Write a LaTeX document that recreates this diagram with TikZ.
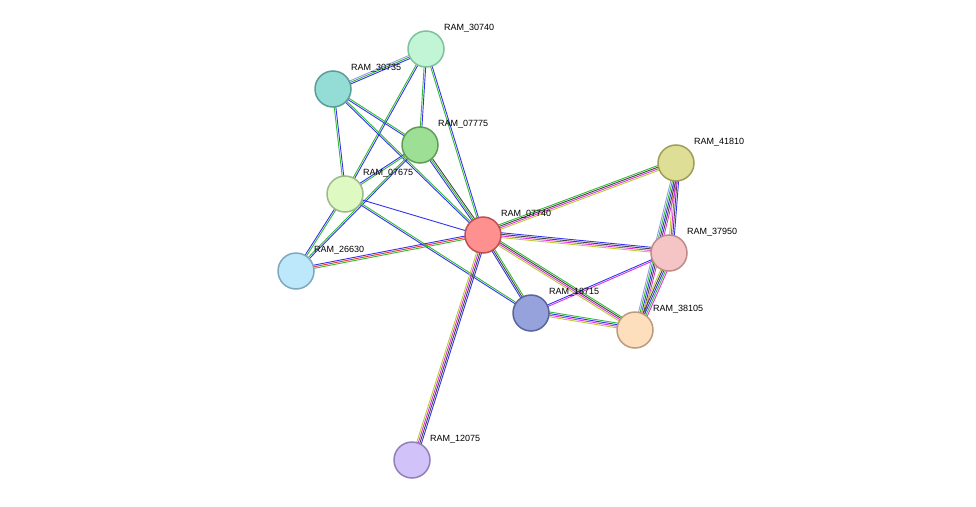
\documentclass[tikz,border=0pt]{standalone}
\usepackage{fontspec}
\setmainfont{Liberation Sans}
\usetikzlibrary{calc}
\definecolor{eblue}{HTML}{3333EE}
\definecolor{egreen}{HTML}{33BB33}
\definecolor{ered}{HTML}{EE3333}
\definecolor{eyel}{HTML}{BBCC33}
\definecolor{emag}{HTML}{DD33DD}
\definecolor{edark}{HTML}{444444}
\definecolor{elight}{HTML}{9999EE}
\tikzstyle{prot} = [draw, circle, line width=1.5pt, minimum size=36pt, inner sep=0pt]
\tikzstyle{plabel} = [anchor=west, inner sep=0pt, font=\fontsize{9}{10}\selectfont]
\newcommand{\link}[3]{%
  \foreach \c [count=\k] in {#3} {
    \draw [\c, line width=0.9pt]
      ($(#1)!{(\k-1.5)*1.6pt}!90:(#2)$) -- ($(#2)!{(\k-1.5)*1.6pt}!-90:(#1)$);
  }}
\newcommand{\protnode}[3]{%
  \definecolor{fill#1}{HTML}{#2}\definecolor{line#1}{HTML}{#3}%
  \node [prot, fill=fill#1, draw=line#1] (p#1) at (c#1) {};
  \node [plabel] (l#1) at ($(c#1)+(18,-21)$) {RAM\_#1};}
\begin{document}
\begin{tikzpicture}[x=1pt, y=-1pt]
  \useasboundingbox (0,0) rectangle (976,506);
  \coordinate (c30740) at (426,49);
  \coordinate (c30735) at (333,89);
  \coordinate (c07775) at (420,145);
  \coordinate (c07675) at (345,194);
  \coordinate (c26630) at (296,271);
  \coordinate (c07740) at (483,235);
  \coordinate (c41810) at (676,163);
  \coordinate (c37950) at (669,253);
  \coordinate (c18715) at (531,313);
  \coordinate (c38105) at (635,330);
  \coordinate (c12075) at (412,460);
  % edges
  \link{c30740}{c30735}{elight,egreen,eblue}
  \link{c30740}{c07775}{egreen,eblue}
  \link{c30740}{c07740}{egreen,eblue}
  \link{c30740}{c07675}{egreen,eblue}
  \link{c30735}{c07775}{eblue,egreen}
  \link{c30735}{c07740}{eblue,egreen}
  \link{c30735}{c07675}{egreen,eblue}
  \link{c07775}{c07675}{eblue,egreen}
  \link{c07775}{c26630}{egreen,eblue}
  \link{c07775}{c07740}{eblue,egreen,edark}
  \link{c07675}{c26630}{eblue,egreen}
  \link{c07675}{c07740}{eblue}
  \link{c07675}{c18715}{eblue,egreen}
  \link{c26630}{c07740}{egreen,ered,eblue}
  \link{c07740}{c41810}{eyel,emag,edark,egreen}
  \link{c07740}{c37950}{eyel,emag,edark,eblue}
  \link{c07740}{c18715}{eblue,edark,egreen}
  \link{c07740}{c38105}{eyel,emag,edark,egreen}
  \link{c07740}{c12075}{eyel,emag,edark,eblue}
  \link{c41810}{c37950}{eyel,emag,edark,eblue}
  \link{c41810}{c38105}{elight,egreen,eblue,edark,emag}
  \link{c37950}{c38105}{eyel,edark,eblue,egreen,emag}
  \link{c37950}{c18715}{eblue,emag}
  \link{c18715}{c38105}{eyel,emag,eblue,egreen}
  % nodes
  \protnode{30740}{C2F5D5}{7FC19B}
  \protnode{30735}{93DDD6}{5A9E98}
  \protnode{07775}{9DDF94}{5F9E58}
  \protnode{07675}{DEF9C2}{9DB98A}
  \protnode{26630}{BDE7FB}{7EA8BD}
  \protnode{07740}{FF9090}{C05050}
  \protnode{41810}{DEDE96}{9E9E58}
  \protnode{37950}{F5C5C5}{BE8A8A}
  \protnode{18715}{96A2DC}{5A659C}
  \protnode{38105}{FDDFBD}{BB9B7B}
  \protnode{12075}{D2C2FA}{9280B8}
\end{tikzpicture}
\end{document}
